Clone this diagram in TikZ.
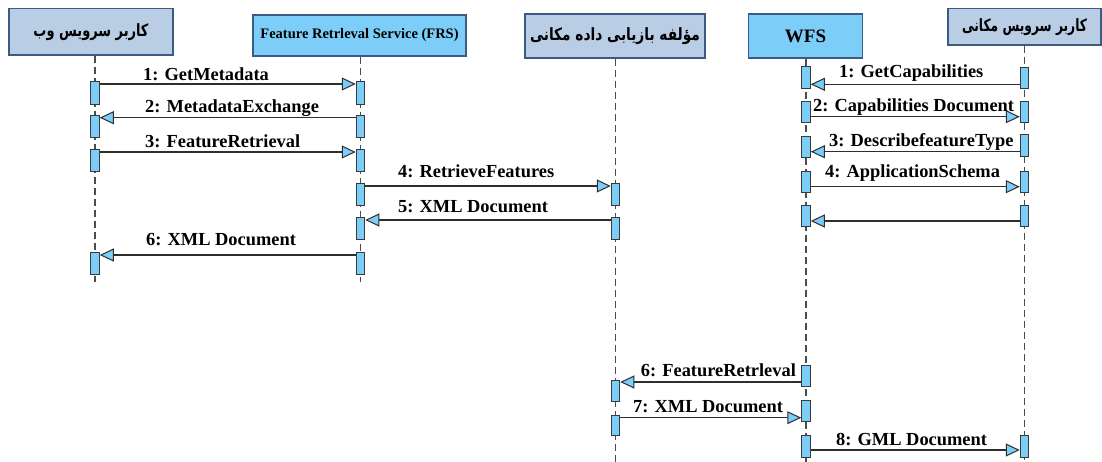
\documentclass[tikz,border=0pt]{standalone}
\usepackage{fontspec}
\usepackage{graphicx}
\setmainfont{Liberation Serif}
\newfontfamily\farsi[Script=Arabic]{DejaVu Sans}
\TeXXeTstate=1
\usetikzlibrary{arrows.meta}
\definecolor{hdr}{HTML}{B9CDE5}
\definecolor{hdrline}{HTML}{3B5A84}
\definecolor{sky}{HTML}{7CCDF7}
\definecolor{barline}{HTML}{3A3A3A}
\definecolor{msgline}{HTML}{2E2E2E}
\begin{document}
\begin{tikzpicture}[x=1pt,y=-1pt,
  hdrbox/.style={draw=hdrline, line width=1.3pt, fill=hdr, inner sep=0pt},
  hdrsky/.style={hdrbox, fill=sky},
  bar/.style={draw=barline, line width=1pt, fill=sky, minimum width=8.5pt, inner sep=0pt},
  life/.style={draw=black!70, line width=1.1pt, dash pattern=on 7pt off 4pt},
  msg/.style={draw=msgline, line width=1.3pt, -{Triangle[length=14pt,width=13pt,fill=sky,line width=1pt]}},
  lbl/.style={font=\bfseries\fontsize{18.4}{20}\selectfont, anchor=base west, inner sep=0pt},
]
\useasboundingbox (0,0) rectangle (1102,462);

% headers
\node[hdrbox, minimum width=164pt, minimum height=46.7pt] (h1) at (91,31.7) {\resizebox*{115pt}{17pt}{\farsi\bfseries\beginR کاربر سرویس وب\endR}};
\node[hdrsky, minimum width=213pt, minimum height=41pt] (h2) at (359.5,35.5) {\bfseries\fontsize{14.5}{16}\selectfont Feature Retrleval Service (FRS)};
\node[hdrbox, minimum width=180pt, minimum height=44pt] (h3) at (615,36) {\resizebox*{170pt}{17pt}{\farsi\bfseries\beginR مؤلفه بازیابی داده مکانی\endR}};
\node[hdrsky, minimum width=114pt, minimum height=44pt] (h4) at (805.5,36) {\bfseries\fontsize{19}{21}\selectfont WFS};
\node[hdrbox, minimum width=153pt, minimum height=36.7pt] (h5) at (1024.5,26.7) {\resizebox*{125pt}{17pt}{\farsi\bfseries\beginR کاربر سرویس مکانی\endR}};

% lifeline ends
\coordinate (e1) at (95,282);
\coordinate (e2) at (360.5,282);
\coordinate (e3) at (615.5,462);
\coordinate (e4) at (806,462);
\coordinate (e5) at (1024.5,462);
\draw[life] (h1.south -| e1) -- (e1);
\draw[life] (h2.south -| e2) -- (e2);
\draw[life] (h3.south -| e3) -- (e3);
\draw[life] (h4.south -| e4) -- (e4);
\draw[life] (h5.south -| e5) -- (e5);

% activation bars (left part)
\node[bar, minimum height=22.3pt] (b1a) at (95,92.9) {};
\node[bar, minimum height=22.3pt] (b1b) at (360.5,92.9) {};
\node[bar, minimum height=22pt] (b2a) at (360.5,127) {};
\node[bar, minimum height=22pt] (b2b) at (95,127) {};
\node[bar, minimum height=22pt] (b3a) at (95,161) {};
\node[bar, minimum height=22pt] (b3b) at (360.5,161) {};
\node[bar, minimum height=22pt] (b4a) at (360.5,195) {};
\node[bar, minimum height=22pt] (b4b) at (615.5,195) {};
\node[bar, minimum height=22pt] (b5a) at (615.5,229) {};
\node[bar, minimum height=22pt] (b5b) at (360.5,229) {};
\node[bar, minimum height=21.3pt] (b6a) at (360.5,263.4) {};
\node[bar, minimum height=21.3pt] (b6b) at (95,263.4) {};

% activation bars (right part)
\node[bar, minimum height=21pt] (r1a) at (1024.5,78) {};
\node[bar, minimum height=22pt] (r1b) at (806,78) {};
\node[bar, minimum height=21pt] (r2a) at (806,112.5) {};
\node[bar, minimum height=21pt] (r2b) at (1024.5,112.5) {};
\node[bar, minimum height=22pt] (r3a) at (1024.5,146) {};
\node[bar, minimum height=21pt] (r3b) at (806,147.5) {};
\node[bar, minimum height=21pt] (r4a) at (806,182.2) {};
\node[bar, minimum height=21pt] (r4b) at (1024.5,182.2) {};
\node[bar, minimum height=21.7pt] (r5a) at (1024.5,215.9) {};
\node[bar, minimum height=21.7pt] (r5b) at (806,215.9) {};

% activation bars (bottom part)
\node[bar, minimum height=21.7pt] (s6a) at (806,375.9) {};
\node[bar, minimum height=21.7pt] (s6b) at (615.5,390.9) {};
\node[bar, minimum height=19.5pt] (s7a) at (615.5,425.4) {};
\node[bar, minimum height=20.3pt] (s7b) at (806,410.9) {};
\node[bar, minimum height=22pt] (s8a) at (806,446) {};
\node[bar, minimum height=22pt] (s8b) at (1024.5,446) {};

% messages (left part)
\draw[msg] (b1a.east |- 0,84) -- (b1b.west |- 0,84);
\draw[msg] (b2a.west |- 0,117.7) -- (b2b.east |- 0,117.7);
\draw[msg] (b3a.east |- 0,152) -- (b3b.west |- 0,152);
\draw[msg] (b4a.east |- 0,186) -- (b4b.west |- 0,186);
\draw[msg] (b5a.west |- 0,220) -- (b5b.east |- 0,220);
\draw[msg] (b6a.west |- 0,255) -- (b6b.east |- 0,255);

% messages (right part)
\draw[msg] (r1a.west |- 0,84.3) -- (r1b.east |- 0,84.3);
\draw[msg] (r2a.east |- 0,116.7) -- (r2b.west |- 0,116.7);
\draw[msg] (r3a.west |- 0,151.7) -- (r3b.east |- 0,151.7);
\draw[msg] (r4a.east |- 0,186.7) -- (r4b.west |- 0,186.7);
\draw[msg] (r5a.west |- 0,221) -- (r5b.east |- 0,221);

% messages (bottom part)
\draw[msg] (s6a.west |- 0,382) -- (s6b.east |- 0,382);
\draw[msg] (s7a.east |- 0,417.7) -- (s7b.west |- 0,417.7);
\draw[msg] (s8a.east |- 0,450) -- (s8b.west |- 0,450);

% labels
\node[lbl] (l1) at (143,80.7) {1: GetMetadata};
\node[lbl] (l2) at (145,112.3) {2: MetadataExchange};
\node[lbl] (l3) at (145,147.3) {3: FeatureRetrieval};
\node[lbl] (l4) at (398,178) {4: RetrieveFeatures};
\node[lbl] (l5) at (398,213) {5: XML Document};
\node[lbl] (l6) at (146,246) {6: XML Document};
\node[lbl] (q1) at (839,78) {1: GetCapabilities};
\node[lbl] (q2) at (813,112) {2: Capabilities Document};
\node[lbl] (q3) at (829,146.7) {3: DescribefeatureType};
\node[lbl] (q4) at (825,178) {4: ApplicationSchema};
\node[lbl] (q6) at (640.7,376) {6: FeatureRetrleval};
\node[lbl] (q7) at (633,412.7) {7: XML Document};
\node[lbl] (q8) at (836,445) {8: GML Document};
\end{tikzpicture}
\end{document}
